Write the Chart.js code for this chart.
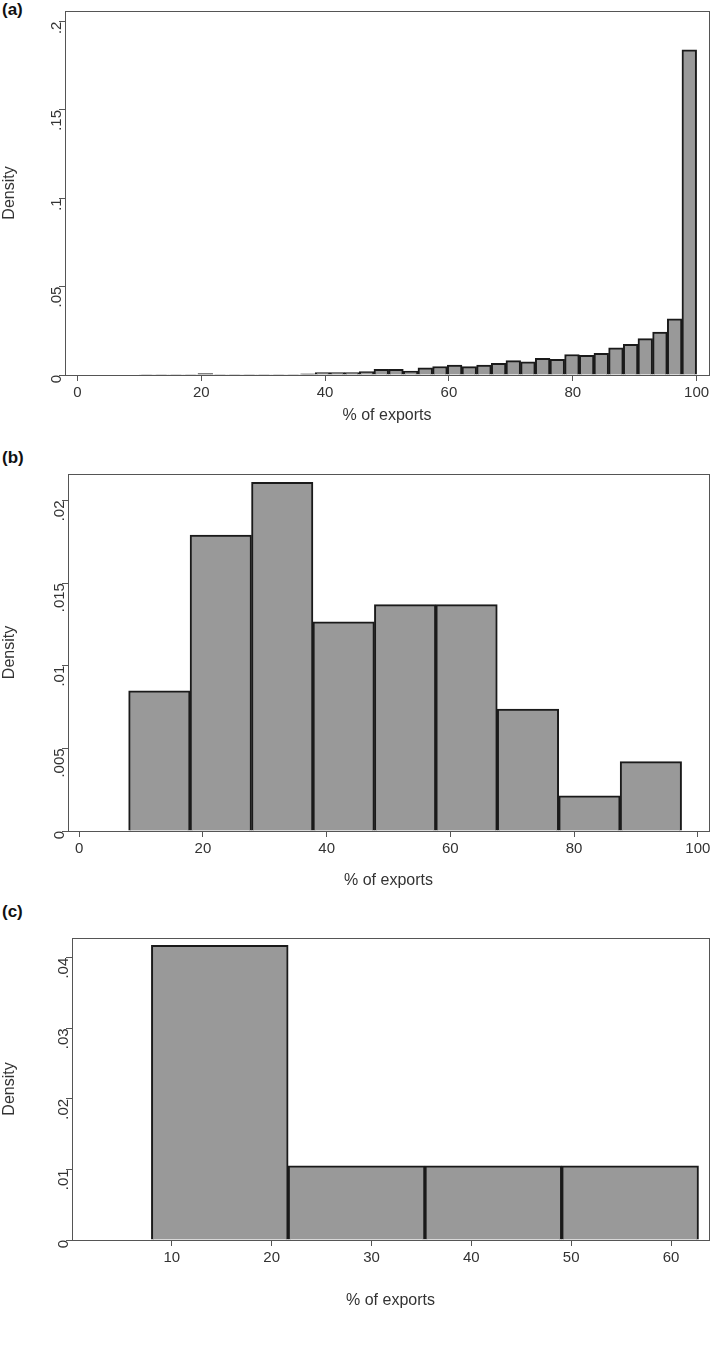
<!DOCTYPE html>
<html>
<head>
<meta charset="utf-8">
<script src="https://cdn.jsdelivr.net/npm/chart.js@4.4.1/dist/chart.umd.min.js"></script>
<style>
    body { margin: 0; background: #fff; width: 714px; height: 1345px; position: relative; overflow: hidden; }
    .panel { position: absolute; left: 0; width: 714px; }
    .tag { position: absolute; left: 2px; font: bold 17px "Liberation Sans", Arial, sans-serif; color: #111; }
</style>
</head>
<body>
<div class="tag" style="top:0px;">(a)</div>
<div class="tag" style="top:448px;">(b)</div>
<div class="tag" style="top:902px;">(c)</div>
<div class="panel" style="top:0; height:425px;"><canvas id="chartA"></canvas></div>
<div class="panel" style="top:440px; height:450px;"><canvas id="chartB"></canvas></div>
<div class="panel" style="top:890px; height:420px;"><canvas id="chartC"></canvas></div>
<script>
// (a) 38 bins from 10 to 100
const binStartA = 10;
const binWidthA = 90 / 38;
const densityA = [
    0.0003, 0.0003, 0.0003, 0.0003, 0.0008, 0.0003, 0.0003, 0.0003, 0.0003, 0.0003,
    0.0003, 0.0006, 0.0013, 0.0013, 0.0013, 0.0019, 0.0032, 0.0032, 0.0022, 0.0041,
    0.0048, 0.0056, 0.0047, 0.0056, 0.0066, 0.0081, 0.0075, 0.0094, 0.0088, 0.0116,
    0.0112, 0.0122, 0.0154, 0.0174, 0.0206, 0.0243, 0.0318, 0.184
];
const xTicksA = [0, 20, 40, 60, 80, 100];
const yTicksA = [0, 0.05, 0.1, 0.15, 0.2];

// (b) 9 bins
const binStartB = 8.0;
const binWidthB = 9.93;
const densityB = [0.00848, 0.0179, 0.0211, 0.01266, 0.0137, 0.0137, 0.00738, 0.00213, 0.0042];
const xTicksB = [0, 20, 40, 60, 80, 100];
const yTicksB = [0, 0.005, 0.01, 0.015, 0.02];

// (c) 4 bins
const binStartC = 7.95;
const binWidthC = 13.7;
const densityC = [0.04175, 0.0105, 0.0105, 0.0105];
const xTicksC = [10, 20, 30, 40, 50, 60];
const yTicksC = [0, 0.01, 0.02, 0.03, 0.04];

const FONT = '"Liberation Sans Narrow", "Liberation Sans", Arial, sans-serif';

const frame = {
    id: 'frame',
    afterDraw(chart) {
        const { ctx, chartArea: a } = chart;
        ctx.save();
        ctx.strokeStyle = '#555';
        ctx.lineWidth = 1;
        ctx.strokeRect(a.left + 0.5, a.top + 0.5, a.right - a.left, a.bottom - a.top);
        ctx.restore();
    }
};

function fmt(v) {
    if (v === 0) return '0';
    return String(Number(v.toFixed(4))).replace(/^0/, '');
}

function histogram(id, start, width, values, xTicks, yTicks, xr, ymax, yw, xh, padTop) {
    const points = values.map((v, i) => ({ x: start + width * (i + 0.5), y: v }));
    return new Chart(document.getElementById(id), {
        type: 'bar',
        data: {
            datasets: [{
                data: points,
                xAxisID: 'xb',
                backgroundColor: '#999999',
                borderColor: '#1a1a1a',
                borderWidth: 2,
                barPercentage: 1,
                categoryPercentage: 1
            }]
        },
        options: {
            responsive: true,
            maintainAspectRatio: false,
            animation: false,
            layout: { padding: { top: padTop, right: 5, left: 0, bottom: 0 } },
            plugins: { legend: { display: false }, tooltip: { enabled: false } },
            scales: {
                // hidden axis carrying the bars, so tick spacing does not narrow them
                xb: {
                    type: 'linear', position: 'bottom', display: false, min: xr[0], max: xr[1], offset: false,
                    afterBuildTicks: s => { s.ticks = []; }
                },
                x: {
                    type: 'linear', position: 'bottom', min: xr[0], max: xr[1], offset: false,
                    afterBuildTicks: s => { s.ticks = xTicks.map(v => ({ value: v })); },
                    afterFit: s => { s.height = xh; },
                    grid: { drawOnChartArea: false, offset: false, tickLength: 6, color: '#555' },
                    border: { color: '#555' },
                    ticks: { color: '#333', font: { family: FONT, size: 15 }, maxRotation: 0 },
                    title: { display: true, text: '% of exports', color: '#333', font: { family: FONT, size: 16 }, padding: 0 }
                },
                y: {
                    min: 0, max: ymax,
                    afterBuildTicks: s => { s.ticks = yTicks.map(v => ({ value: v })); },
                    afterFit: s => { s.width = yw; },
                    grid: { drawOnChartArea: false, tickLength: 6, color: '#555' },
                    border: { color: '#555' },
                    ticks: { color: '#333', font: { family: FONT, size: 15 }, minRotation: 90, maxRotation: 90, padding: 2, callback: v => fmt(v) },
                    title: { display: true, text: 'Density', color: '#333', font: { family: FONT, size: 16 }, padding: 0 }
                }
            }
        },
        plugins: [frame]
    });
}

histogram('chartA', binStartA, binWidthA, densityA, xTicksA, yTicksA, [-2, 102], 0.206, 65, 50, 5);
histogram('chartB', binStartB, binWidthB, densityB, xTicksB, yTicksB, [-1.8, 101.8], 0.0216, 68, 59, 34);
histogram('chartC', binStartC, binWidthC, densityC, xTicksC, yTicksC, [0, 63.8], 0.0428, 72, 70, 48);
</script>
</body>
</html>
